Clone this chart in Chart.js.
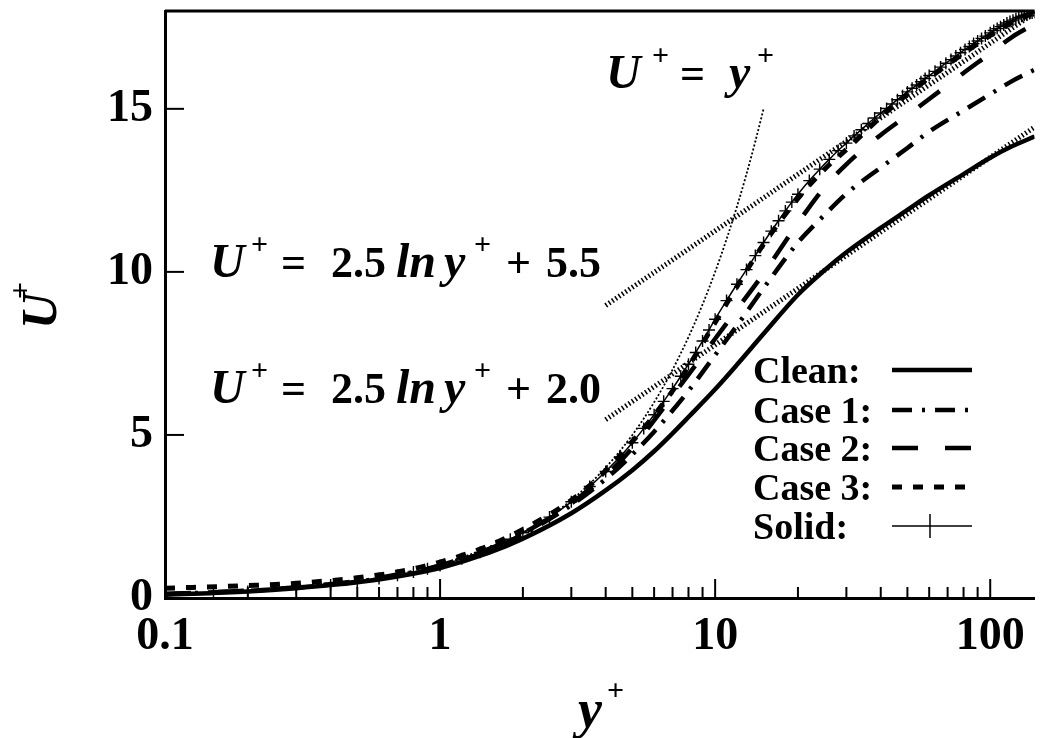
<!DOCTYPE html>
<html>
<head>
<meta charset="utf-8">
<title>U+ vs y+</title>
<script src="https://cdn.jsdelivr.net/npm/chart.js@4.4.1/dist/chart.umd.min.js"></script>
<style>
  html, body { margin: 0; padding: 0; background: #fff; }
  #wrap { width: 1042px; height: 738px; position: relative; }
</style>
</head>
<body>
<div id="wrap"><canvas id="myChart"></canvas></div>
<script>
// y+ sample points shared by the four thick curves
const yPlus = [0.1, 0.2, 0.3, 0.5, 0.7, 1, 1.5, 2, 3, 4, 5, 6, 7, 8, 10, 12, 15, 20, 25, 30, 40, 50, 60, 80, 100, 120, 145];
const cleanU = [0.1, 0.2, 0.3, 0.48, 0.66, 0.92, 1.38, 1.82, 2.6, 3.3, 3.92, 4.5, 5.05, 5.55, 6.4, 7.15, 8.1, 9.3, 10.05, 10.6, 11.35, 11.9, 12.35, 13.0, 13.5, 13.85, 14.15];
const case1U = [0.12, 0.22, 0.32, 0.5, 0.7, 0.98, 1.45, 1.95, 2.85, 3.65, 4.4, 5.1, 5.75, 6.35, 7.45, 8.35, 9.5, 10.9, 11.75, 12.4, 13.2, 13.8, 14.3, 14.95, 15.45, 15.85, 16.2];
const case2U = [0.12, 0.23, 0.33, 0.52, 0.72, 1.0, 1.5, 1.98, 2.9, 3.75, 4.6, 5.45, 6.2, 6.85, 7.95, 8.85, 9.95, 11.5, 12.6, 13.3, 14.2, 14.8, 15.3, 16.1, 16.7, 17.2, 17.6];
const case3U = [0.3, 0.38, 0.45, 0.62, 0.8, 1.1, 1.6, 2.1, 3.0, 3.9, 4.8, 5.6, 6.35, 7.1, 8.45, 9.55, 10.85, 12.25, 13.15, 13.75, 14.75, 15.45, 15.95, 16.7, 17.25, 17.65, 17.95];

// solid wall case (plotted with + markers)
const solidYPlus = [0.1, 0.15, 0.2, 0.3, 0.4, 0.5, 0.6, 0.7, 0.8, 0.9, 1, 1.2, 1.4, 1.6, 1.8, 2, 2.5, 3, 3.5, 4, 4.5, 5, 5.5, 6, 6.5, 7, 7.5, 8, 8.5, 9, 9.5, 10, 11, 12, 13, 14, 15, 16, 17, 18, 19, 20, 22, 24, 26, 28,
    30, 32, 34, 36, 38, 40, 42, 44, 46, 48, 50, 52, 54, 56, 58, 60, 63, 66, 69, 72, 75, 78, 81, 84, 87, 90, 93, 96, 100, 103, 106, 109, 112, 115, 118, 121, 124, 127, 130, 133, 136, 139, 142, 145];
const solidU = [0.1, 0.15, 0.2, 0.3, 0.4, 0.5, 0.6, 0.7, 0.8, 0.9, 1.0, 1.2, 1.4, 1.6, 1.8, 2.0, 2.48, 2.95, 3.42, 3.88, 4.32, 4.76, 5.2, 5.62, 6.03, 6.42, 6.8, 7.17, 7.53, 7.88, 8.22, 8.55, 9.12, 9.62, 10.07, 10.5, 10.9, 11.25, 11.57, 11.87, 12.14, 12.38, 12.8, 13.15, 13.45, 13.72,
    13.95, 14.17, 14.36, 14.55, 14.72, 14.87, 15.01, 15.15, 15.28, 15.4, 15.52, 15.63, 15.73, 15.83, 15.93, 16.02, 16.15, 16.28, 16.4, 16.51, 16.62, 16.72, 16.82, 16.91, 17.0, 17.08, 17.16, 17.23, 17.33, 17.4, 17.46, 17.52, 17.57, 17.63, 17.68, 17.72, 17.76, 17.8, 17.84, 17.87, 17.9, 17.92, 17.94, 17.96];

// reference laws
const viscousYPlus = [1, 2, 3, 4, 5, 6, 7, 8, 9, 10, 11, 12, 13, 14, 15];
const viscousU = [1, 2, 3, 4, 5, 6, 7, 8, 9, 10, 11, 12, 13, 14, 15];
const logLawYPlus = [4, 145];
const logLaw55U = [8.97, 17.94];
const logLaw20U = [5.47, 14.44];

const xTicks = [0.1, 1, 10, 100];
const yTicks = [0, 5, 10, 15];
const legendLabels = ['Clean:', 'Case 1:', 'Case 2:', 'Case 3:', 'Solid:'];

const serif = '"Liberation Serif", "Times New Roman", serif';

function pts(xs, ys) {
    return xs.map((x, i) => ({x: x, y: ys[i]}));
}

function line(ctx, x1, y1, x2, y2) {
    ctx.beginPath();
    ctx.moveTo(x1, y1);
    ctx.lineTo(x2, y2);
    ctx.stroke();
}

function drawParts(ctx, x0, y0, parts) {
    parts.forEach(p => {
        ctx.font = p.f;
        ctx.fillText(p.t, x0 + p.dx, y0 + (p.dy || 0));
    });
}

const BI = 'italic bold 48px ' + serif;
const B = 'bold 44px ' + serif;
const SUP = 'bold 30px ' + serif;

function lawParts(constant) {
    return [
        {t: 'U', f: BI, dx: -2},
        {t: '+', f: SUP, dx: 39, dy: -23},
        {t: '=', f: B, dx: 69},
        {t: '2.5', f: B, dx: 119},
        {t: 'ln', f: BI, dx: 184},
        {t: 'y', f: BI, dx: 232},
        {t: '+', f: SUP, dx: 262, dy: -23},
        {t: '+', f: B, dx: 294},
        {t: constant, f: B, dx: 334}
    ];
}

const decor = {
    id: 'decor',
    beforeDatasetsDraw(chart) {
        const ctx = chart.ctx, a = chart.chartArea;
        const xs = chart.scales.x, ys = chart.scales.y;
        ctx.save();
        ctx.strokeStyle = '#000';
        ctx.lineWidth = 3;
        line(ctx, a.left, a.top, a.right, a.top);
        ctx.lineWidth = 2;
        xTicks.forEach(v => {
            const px = xs.getPixelForValue(v);
            line(ctx, px, a.bottom, px, a.bottom - 19);
            for (let k = 2; k <= 9; k++) {
                if (v * k > xs.max) break;
                const mx = xs.getPixelForValue(v * k);
                line(ctx, mx, a.bottom, mx, a.bottom - 11);
            }
        });
        yTicks.forEach(v => {
            const py = ys.getPixelForValue(v);
            line(ctx, a.left, py, a.left + 19, py);
        });
        ctx.restore();
    },
    afterDraw(chart) {
        const ctx = chart.ctx;
        ctx.save();
        ctx.fillStyle = '#000';
        ctx.textAlign = 'left';
        ctx.textBaseline = 'alphabetic';

        // equations
        drawParts(ctx, 608, 88, [
            {t: 'U', f: BI, dx: -2},
            {t: '+', f: SUP, dx: 44, dy: -23},
            {t: '=', f: B, dx: 72},
            {t: 'y', f: BI, dx: 121},
            {t: '+', f: SUP, dx: 149, dy: -23}
        ]);
        drawParts(ctx, 212, 277, lawParts('5.5'));
        drawParts(ctx, 212, 403, lawParts('2.0'));

        // axis titles
        drawParts(ctx, 578, 727, [
            {t: 'y', f: 'italic bold 54px ' + serif, dx: 0},
            {t: '+', f: 'bold 30px ' + serif, dx: 29, dy: -27}
        ]);
        ctx.save();
        ctx.translate(56, 329);
        ctx.rotate(-Math.PI / 2);
        drawParts(ctx, 0, 0, [
            {t: 'U', f: 'italic bold 50px ' + serif, dx: 0},
            {t: '+', f: 'bold 30px ' + serif, dx: 30, dy: -26}
        ]);
        ctx.restore();

        // legend
        ctx.font = 'bold 38px ' + serif;
        const baselines = [383, 423, 461, 500, 539];
        legendLabels.forEach((lab, i) => {
            const ds = chart.data.datasets[i];
            const b = baselines[i];
            ctx.fillText(lab, 753, b);
            const ly = b - 13;
            ctx.strokeStyle = '#000';
            ctx.lineWidth = ds.borderWidth;
            ctx.setLineDash(ds.borderDash || []);
            line(ctx, 892, ly, 972, ly);
            ctx.setLineDash([]);
            if (ds.pointStyle === 'cross') {
                ctx.lineWidth = 1.5;
                line(ctx, 930, ly - 12, 930, ly + 12);
            }
        });
        ctx.restore();
    }
};

const ctx = document.getElementById('myChart').getContext('2d');
const myChart = new Chart(ctx, {
    type: 'line',
    data: {
        datasets: [
            {label: 'Clean', data: pts(yPlus, cleanU), borderColor: '#000', borderWidth: 4.5, pointRadius: 0, cubicInterpolationMode: 'monotone'},
            {label: 'Case 1', data: pts(yPlus, case1U), borderColor: '#000', borderWidth: 4.5, borderDash: [20, 10, 3, 10], pointRadius: 0, cubicInterpolationMode: 'monotone'},
            {label: 'Case 2', data: pts(yPlus, case2U), borderColor: '#000', borderWidth: 4.5, borderDash: [26, 27], pointRadius: 0, cubicInterpolationMode: 'monotone'},
            {label: 'Case 3', data: pts(yPlus, case3U), borderColor: '#000', borderWidth: 5, borderDash: [10, 11], pointRadius: 0, cubicInterpolationMode: 'monotone'},
            {label: 'Solid', data: pts(solidYPlus, solidU), borderColor: '#000', borderWidth: 1.5, pointStyle: 'cross', pointRadius: 6, pointBorderWidth: 1.4, pointBorderColor: '#000', cubicInterpolationMode: 'monotone'},
            {label: 'U+ = y+', data: pts(viscousYPlus, viscousU), borderColor: '#000', borderWidth: 1.8, borderDash: [2, 2], pointRadius: 0, cubicInterpolationMode: 'monotone'},
            {label: 'U+ = 2.5 ln y+ + 5.5', data: pts(logLawYPlus, logLaw55U), borderColor: '#000', borderWidth: 5, borderDash: [1.5, 2.5], pointRadius: 0},
            {label: 'U+ = 2.5 ln y+ + 2.0', data: pts(logLawYPlus, logLaw20U), borderColor: '#000', borderWidth: 5, borderDash: [1.5, 2.5], pointRadius: 0}
        ]
    },
    options: {
        responsive: true,
        maintainAspectRatio: false,
        devicePixelRatio: 1,
        animation: false,
        layout: {padding: {top: 11, right: 0, bottom: 0, left: 0}},
        plugins: {legend: {display: false}, tooltip: {enabled: false}},
        scales: {
            x: {
                type: 'logarithmic',
                min: 0.1,
                max: 145,
                grid: {drawOnChartArea: false, drawTicks: false},
                border: {display: true, color: '#000', width: 3},
                afterBuildTicks: s => { s.ticks = xTicks.map(v => ({value: v, major: true})); },
                afterFit: s => { s.height = 140; s.paddingLeft = 0; s.paddingRight = 0; },
                ticks: {
                    color: '#000',
                    padding: 12,
                    autoSkip: false,
                    maxRotation: 0,
                    font: {family: serif, size: 46, weight: 'bold'},
                    callback: v => String(v)
                }
            },
            y: {
                type: 'linear',
                min: 0,
                max: 18,
                grid: {drawOnChartArea: false, drawTicks: false},
                border: {display: true, color: '#000', width: 3},
                afterBuildTicks: s => { s.ticks = yTicks.map(v => ({value: v})); },
                afterFit: s => { s.width = 165; s.paddingTop = 0; s.paddingBottom = 0; },
                ticks: {
                    color: '#000',
                    padding: 12,
                    font: {family: serif, size: 46, weight: 'bold'},
                    callback: v => String(v)
                }
            }
        }
    },
    plugins: [decor]
});
</script>
</body>
</html>
